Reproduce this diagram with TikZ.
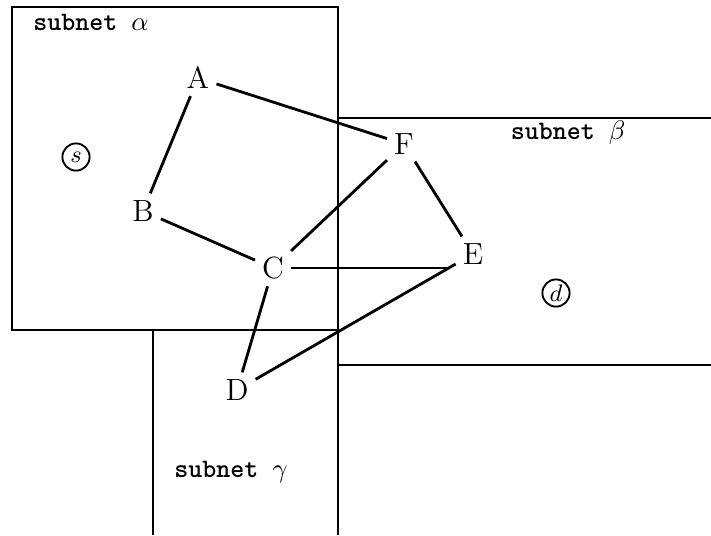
\documentclass[tikz,border=0pt]{standalone}
\usepackage{fontspec}
\begin{document}
\begin{tikzpicture}[x=0.375pt,y=-0.375pt,
  net/.style={line width=1.05pt},
  edge/.style={line width=1.05pt, shorten >=0pt, shorten <=0pt},
  vert/.style={inner sep=2.5pt, font=\fontsize{11.5}{13}\selectfont},
  sub/.style={font=\ttfamily\bfseries\fontsize{10}{12}\selectfont, inner sep=0pt},
  term/.style={circle, draw, line width=0.7pt, minimum size=10.2pt, inner sep=0pt, font=\fontsize{9}{10}\selectfont}]
\useasboundingbox (0,0) rectangle (711,535);
% regions
\coordinate (a1) at (12,7);
\coordinate (a2) at (338,330);
\draw[net] (a1) rectangle (a2);
\coordinate (b1) at (711,118);
\coordinate (b2) at (338,118);
\coordinate (b3) at (338,365);
\coordinate (b4) at (711,365);
\draw[net] (b1) -- (b2) -- (b3) -- (b4);
\coordinate (g1) at (153,535);
\coordinate (g2) at (153,330);
\coordinate (g3) at (338,330);
\coordinate (g4) at (338,535);
\draw[net] (g1) -- (g2) -- (g3) -- (g4);
% labels
\node[sub] (la) at (91,22) {subnet $\alpha$};
\node[sub] (lb) at (568,133) {subnet $\beta$};
\node[sub] (lg) at (231,472) {subnet $\gamma$};
% terminals
\node[term] (s) at (76,157) {$s$};
\node[term] (d) at (556,293) {$d$};
% vertices
\node[vert] (A) at (198,78) {A};
\node[vert] (B) at (143,211) {B};
\node[vert] (C) at (273,268) {C};
\node[vert] (D) at (237,390) {D};
\node[vert] (E) at (473,254) {E};
\node[vert] (F) at (404,144) {F};
\draw[edge] (A) -- (F);
\draw[edge] (A) -- (B);
\draw[edge] (B) -- (C);
\draw[edge] (C) -- (F);
\draw[edge, shorten >=2pt] (C.east) -- (C.east -| E.west);
\draw[edge] (C) -- (D);
\draw[edge] (D) -- (E);
\draw[edge] (F) -- (E);
\end{tikzpicture}
\end{document}
